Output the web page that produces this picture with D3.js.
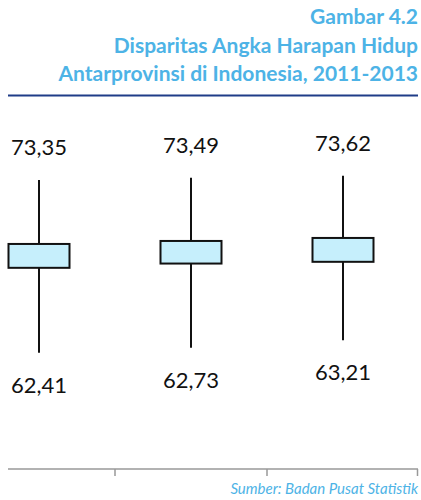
<!DOCTYPE html>
<html>
    <head>
        <meta charset="utf-8">
        <style>
            body { margin: 0; background: #fff; }
            svg { display: block; }
        </style>
    </head>
    <body>
        <svg></svg>

        <script src="https://cdnjs.cloudflare.com/ajax/libs/d3/7.8.5/d3.min.js"></script>
        <script>
            // values
            const years = ['2011', '2012', '2013']
            const maxValues = [73.35, 73.49, 73.62]
            const minValues = [62.41, 62.73, 63.21]
            // box edges are not labelled
            const q3Values = [69.30, 69.49, 69.68]
            const q1Values = [67.79, 68.06, 68.17]

            const titleLines = ['Gambar 4.2', 'Disparitas Angka Harapan Hidup', 'Antarprovinsi di Indonesia, 2011-2013']
            const source = 'Sumber: Badan Pusat Statistik'

            const width = 421
            const height = 500

            const svg = d3.select('svg')
                .attr('width', width).attr('height', height)

            const data = years.map((y, i) => ({
                year: y, max: maxValues[i], min: minValues[i], q3: q3Values[i], q1: q1Values[i]
            }))

            const x = d3.scaleBand()
                .domain(years)
                .range([-37, 419])

            const y = d3.scaleLinear()
                .domain([62, 74])
                .range([359.3, 169.7])

            const blue = '#4db3e6'

            // title, right aligned
            svg.selectAll('.title')
                .data(titleLines)
                .enter().append('text')
                .attr('class', 'title')
                .attr('x', 418)
                .attr('y', (d, i) => [24, 53, 81][i])
                .attr('text-anchor', 'end')
                .style('font-family', 'Lato')
                .style('font-weight', 'bold')
                .style('font-size', '21px')
                .style('fill', blue)
                .text(d => d)

            svg.append('line')
                .attr('x1', 8).attr('x2', 418)
                .attr('y1', 95.5).attr('y2', 95.5)
                .style('stroke', '#1f3c88')
                .style('stroke-width', 2)

            const boxW = 61
            const g = svg.selectAll('.box')
                .data(data)
                .enter().append('g')
                .attr('class', 'box')
                .attr('transform', d => `translate(${x(d.year) + x.bandwidth() / 2},0)`)

            // whisker
            g.append('line')
                .attr('y1', d => y(d.max))
                .attr('y2', d => y(d.min))
                .style('stroke', '#111')
                .style('stroke-width', 2)

            g.append('rect')
                .attr('x', -boxW / 2)
                .attr('width', boxW)
                .attr('y', d => y(d.q3))
                .attr('height', d => y(d.q1) - y(d.q3))
                .style('fill', '#c6effc')
                .style('stroke', '#111')
                .style('stroke-width', 2)

            g.append('text')
                .attr('y', d => y(d.max) - 25)
                .attr('text-anchor', 'middle')
                .style('font-family', 'Lato')
                .style('font-size', '22px')
                .style('fill', '#111')
                .text(d => d3.format('.2f')(d.max).replace('.', ','))

            g.append('text')
                .attr('y', d => y(d.min) + 40)
                .attr('text-anchor', 'middle')
                .style('font-family', 'Lato')
                .style('font-size', '22px')
                .style('fill', '#111')
                .text(d => d3.format('.2f')(d.min).replace('.', ','))

            // bottom axis with ticks at band edges
            svg.append('line')
                .attr('x1', 8).attr('x2', 418)
                .attr('y1', 469).attr('y2', 469)
                .style('stroke', '#999')
                .style('stroke-width', 1.5)

            svg.selectAll('.tick')
                .data(years)
                .enter().append('line')
                .attr('class', 'tick')
                .attr('x1', d => Math.min(x(d) + x.bandwidth(), 417.5))
                .attr('x2', d => Math.min(x(d) + x.bandwidth(), 417.5))
                .attr('y1', 469).attr('y2', 476)
                .style('stroke', '#999')
                .style('stroke-width', 1.5)

            svg.append('text')
                .attr('x', 418)
                .attr('y', 494)
                .attr('text-anchor', 'end')
                .style('font-family', 'Lato')
                .style('font-style', 'italic')
                .style('font-size', '15px')
                .style('fill', blue)
                .text(source)
        </script>
    </body>
</html>
